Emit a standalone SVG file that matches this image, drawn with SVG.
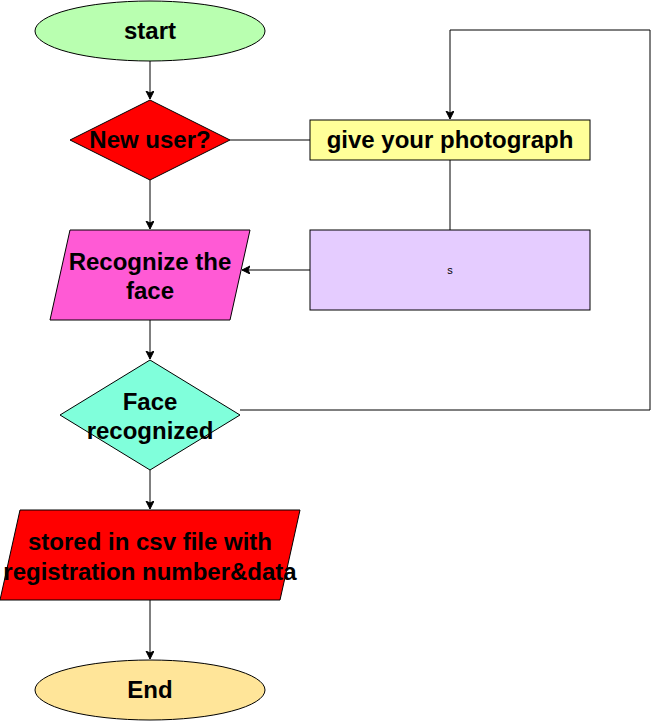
<svg xmlns="http://www.w3.org/2000/svg" width="652" height="721" viewBox="0 0 652 721">
<style>
.n{stroke:#000;stroke-width:1}
.t{font-family:"Liberation Sans",Arial,sans-serif;font-weight:bold;font-size:24px;text-anchor:middle;fill:#000}
.c{fill:none;stroke:#000;stroke-width:1}
</style>
<defs>
<marker id="a" markerWidth="10" markerHeight="10" refX="8" refY="4" orient="auto" markerUnits="userSpaceOnUse">
<path d="M0,0 L8,4 L0,8 L2,4 Z" fill="#000" stroke="#000" stroke-width="1"/>
</marker>
</defs>
<rect width="652" height="721" fill="#fff"/>
<g id="connectors">
<path class="c" d="M150,61 V99" marker-end="url(#a)"/>
<path class="c" d="M230,140 H310"/>
<path class="c" d="M450,160 V230"/>
<path class="c" d="M310,270 H242" marker-end="url(#a)"/>
<path class="c" d="M150,180 V229" marker-end="url(#a)"/>
<path class="c" d="M150,320 V359" marker-end="url(#a)"/>
<path class="c" d="M240,410 H650 V30 H450 V119" marker-end="url(#a)"/>
<path class="c" d="M150,470 V509" marker-end="url(#a)"/>
<path class="c" d="M150,600 V659" marker-end="url(#a)"/>
</g>
<g id="start">
<ellipse class="n" cx="150" cy="31" rx="115" ry="30" fill="#b9ffb0"/>
<text class="t" x="150" y="39">start</text>
</g>
<g id="newuser">
<polygon class="n" points="150,100 230,140 150,180 70,140" fill="#ff0000"/>
<text class="t" x="150" y="148">New user?</text>
</g>
<g id="photo">
<rect class="n" x="310" y="120" width="280" height="40" fill="#ffff99"/>
<text class="t" x="450" y="148">give your photograph</text>
</g>
<g id="s">
<rect class="n" x="310" y="230" width="280" height="80" fill="#e5ccff"/>
<text x="450" y="274" font-family="Liberation Sans,Arial,sans-serif" font-size="11" text-anchor="middle">s</text>
</g>
<g id="recognize">
<polygon class="n" points="70,230 250,230 230,320 50,320" fill="#ff5ad5"/>
<text class="t" x="150" y="270">Recognize the</text>
<text class="t" x="150" y="299">face</text>
</g>
<g id="facerec">
<polygon class="n" points="150,360 240,415 150,470 60,415" fill="#80ffdb"/>
<text class="t" x="150" y="410">Face</text>
<text class="t" x="150" y="439">recognized</text>
</g>
<g id="stored">
<polygon class="n" points="20,510 300,510 280,600 0,600" fill="#ff0000"/>
<text class="t" x="150" y="550">stored in csv file with</text>
<text class="t" x="150" y="580">registration number&amp;data</text>
</g>
<g id="end">
<ellipse class="n" cx="150" cy="690" rx="115" ry="30" fill="#ffe599"/>
<text class="t" x="150" y="698">End</text>
</g>
</svg>
